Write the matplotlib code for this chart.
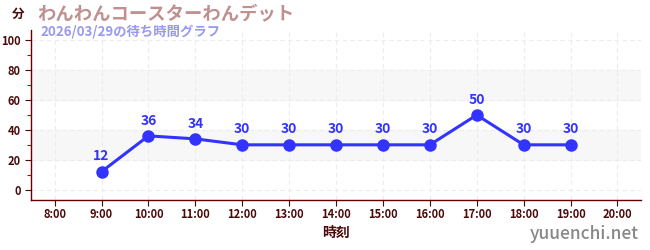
import matplotlib
matplotlib.use("Agg")
import matplotlib.pyplot as plt

plt.rcParams['font.family'] = ['Noto Sans CJK JP', 'DejaVu Sans']

hours = [9, 10, 11, 12, 13, 14, 15, 16, 17, 18, 19]
waits = [12, 36, 34, 30, 30, 30, 30, 30, 50, 30, 30]
tick_hours = list(range(8, 21))
tick_labels = ["%d:00" % h for h in tick_hours]

dark = "#4a0a0a"
blue = "#3333ff"

fig = plt.figure(figsize=(6.5, 2.5), dpi=100)
ax = fig.add_axes([0.048, 0.2, 0.938, 0.68])

ax.set_xlim(7.5, 20.5)
ax.set_ylim(-7, 107)
for lo, hi in [(20, 40), (60, 80)]:
    ax.axhspan(lo, hi, color="#f7f7f7", zorder=0)

ax.set_xticks(tick_hours)
ax.set_xticklabels(tick_labels)
ax.set_yticks(range(0, 101, 20))
ax.set_yticks(range(10, 101, 20), minor=True)
ax.grid(True, which="major", color="#ececec", linestyle=(0, (4, 3)), linewidth=0.8)
ax.tick_params(axis="both", which="major", labelsize=8, colors=dark, length=4, width=0.8)
ax.tick_params(axis="y", which="minor", length=3, color="#cc0000", width=0.8)
ax.tick_params(axis="x", pad=2)
for lbl in ax.get_xticklabels() + ax.get_yticklabels():
    lbl.set_fontweight("bold")
for side in ["top", "right"]:
    ax.spines[side].set_visible(False)
for side in ["left", "bottom"]:
    ax.spines[side].set_color("#660000")
    ax.spines[side].set_linewidth(1)

ax.plot(hours, waits, color=blue, linewidth=2.2, marker="o", markersize=8, zorder=3)
for h, w in zip(hours, waits):
    ax.annotate(str(w), (h, w), xytext=(0, 6), textcoords="offset points",
                ha="center", va="bottom", color=blue, fontsize=10, fontweight="bold")

ax.set_xlabel("時刻", color=dark, fontsize=10, fontweight="bold", labelpad=3)

fig.text(0.028, 0.942, "分", color=dark, fontsize=9, fontweight="bold", ha="center", va="center")
fig.text(0.057, 0.946, "わんわんコースターわんデット", color="#c09090", fontsize=13.2,
         fontweight="bold", ha="left", va="center")
fig.text(0.063, 0.872, "2026/03/29の待ち時間グラフ", color="#9999ee", fontsize=9.6,
         fontweight="bold", ha="left", va="center")
fig.text(0.983, 0.065, "yuuenchi.net", color="#888888", fontsize=12.5, fontweight="medium",
         ha="right", va="center")

fig.savefig("out.png", dpi=100)
